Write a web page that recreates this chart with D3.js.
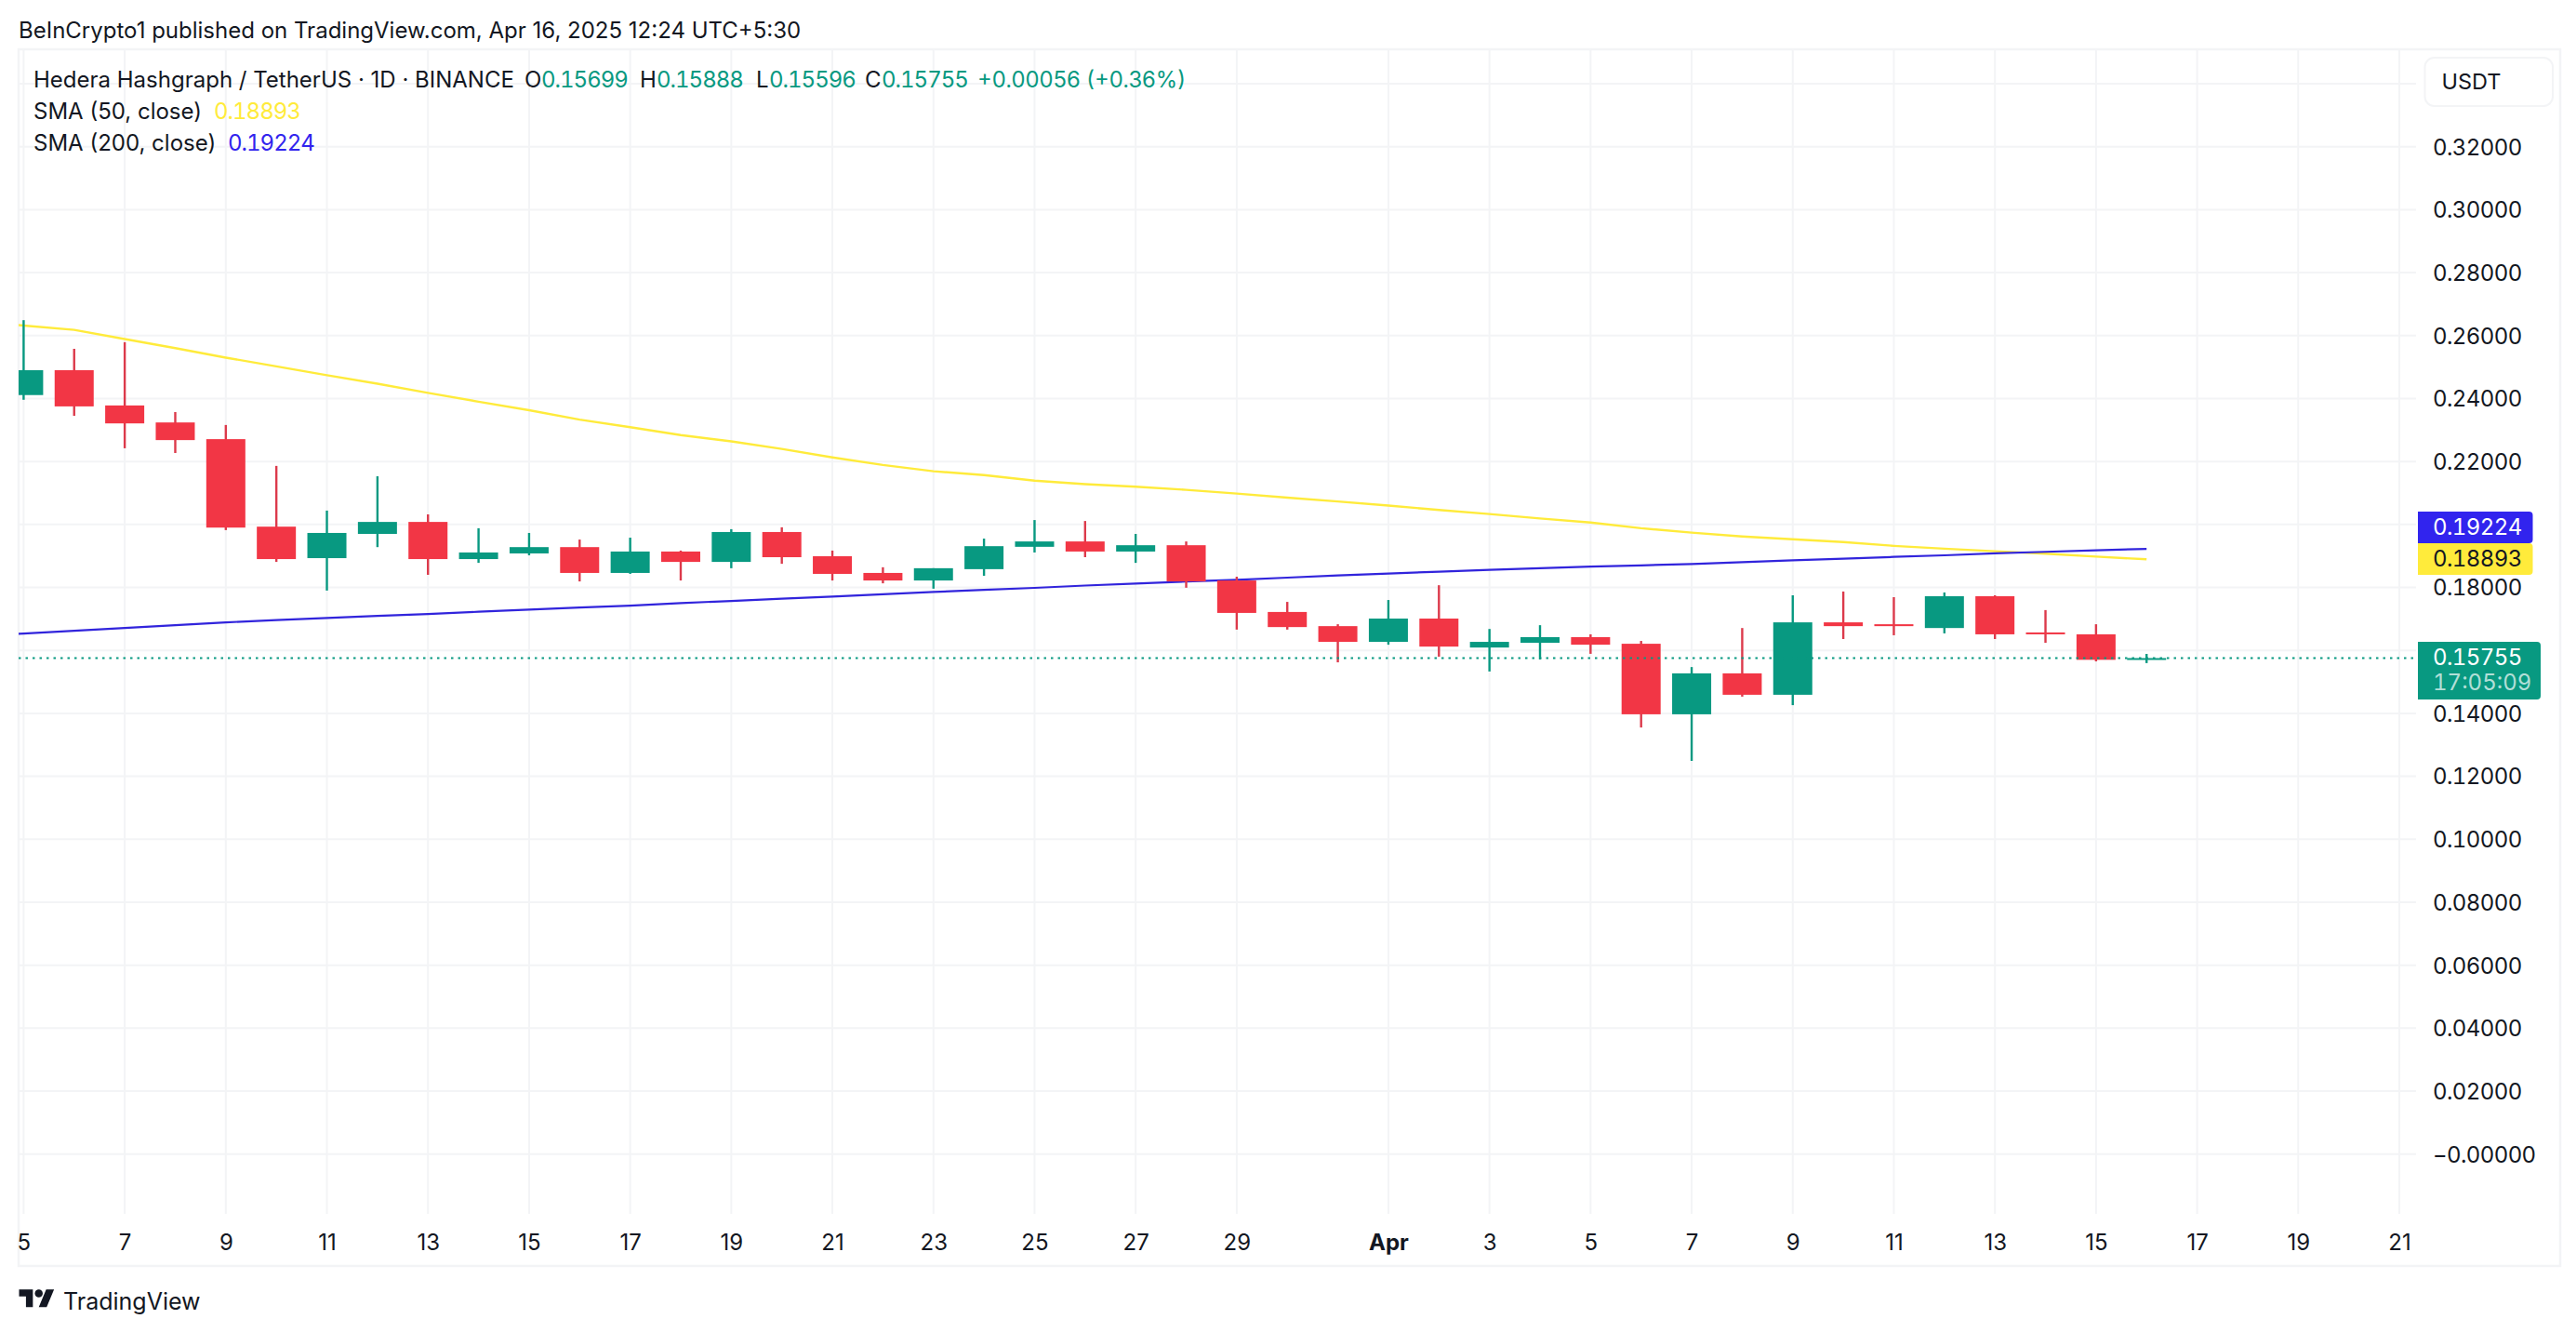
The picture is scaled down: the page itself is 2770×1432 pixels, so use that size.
<!DOCTYPE html>
<html>
<head>
<meta charset="utf-8">
<title>HBAR/USDT</title>
<script src="https://cdn.jsdelivr.net/npm/d3@7"></script>
<style>
  html, body { margin: 0; background: #fff; }
  text { font-family: Inter, "Noto Sans", sans-serif; fill: #131722; }
  .num { font-variant-numeric: tabular-nums; letter-spacing: -0.6px; }
  .legend-num { font-variant-numeric: tabular-nums; letter-spacing: -1px; }
  .clock { font-variant-numeric: tabular-nums; }
</style>
</head>
<body>
<div id="chart"></div>
<script>
const days = [
  "2025-03-05", "2025-03-06", "2025-03-07", "2025-03-08", "2025-03-09", "2025-03-10", "2025-03-11",
  "2025-03-12", "2025-03-13", "2025-03-14", "2025-03-15", "2025-03-16", "2025-03-17", "2025-03-18",
  "2025-03-19", "2025-03-20", "2025-03-21", "2025-03-22", "2025-03-23", "2025-03-24", "2025-03-25",
  "2025-03-26", "2025-03-27", "2025-03-28", "2025-03-29", "2025-03-30", "2025-03-31", "2025-04-01",
  "2025-04-02", "2025-04-03", "2025-04-04", "2025-04-05", "2025-04-06", "2025-04-07", "2025-04-08",
  "2025-04-09", "2025-04-10", "2025-04-11", "2025-04-12", "2025-04-13", "2025-04-14", "2025-04-15",
  "2025-04-16",
];

const opens = [
  0.2411, 0.249, 0.2378, 0.2324, 0.2271, 0.1993, 0.1893, 0.197, 0.2008, 0.189, 0.1908,
  0.1928, 0.1846, 0.1914, 0.1881, 0.1976, 0.1899, 0.1846, 0.1822, 0.1858, 0.1929, 0.1946,
  0.1914, 0.1934, 0.1822, 0.1722, 0.1677, 0.1627, 0.1701, 0.1609, 0.1624, 0.1642, 0.1621,
  0.1397, 0.1527, 0.1459, 0.1689, 0.1683, 0.1671, 0.1772, 0.1657, 0.1651, 0.15699,
];
const highs = [
  0.2649, 0.2558, 0.2579, 0.2357, 0.2316, 0.2186, 0.2044, 0.2153, 0.2032, 0.1988, 0.1973,
  0.1952, 0.1958, 0.1917, 0.1985, 0.1991, 0.1917, 0.1864, 0.1861, 0.1955, 0.2014, 0.2011,
  0.197, 0.1946, 0.1834, 0.1754, 0.1683, 0.176, 0.1807, 0.1668, 0.168, 0.1651, 0.163,
  0.1547, 0.1671, 0.1775, 0.1787, 0.1769, 0.1784, 0.1775, 0.1728, 0.1683, 0.15888,
];
const lows = [
  0.2396, 0.2345, 0.2242, 0.2227, 0.1982, 0.1881, 0.179, 0.1928, 0.184, 0.1878, 0.1902,
  0.1819, 0.1843, 0.1822, 0.1861, 0.1875, 0.1822, 0.1813, 0.1796, 0.1837, 0.1911, 0.1896,
  0.1878, 0.1799, 0.1666, 0.1666, 0.1562, 0.1618, 0.158, 0.1533, 0.1571, 0.1589, 0.1355,
  0.1249, 0.1453, 0.1426, 0.1636, 0.1648, 0.1654, 0.1636, 0.1624, 0.1565, 0.15596,
];
const closes = [
  0.249, 0.2375, 0.2321, 0.2268, 0.199, 0.189, 0.1973, 0.2008, 0.189, 0.1911, 0.1928,
  0.1846, 0.1914, 0.1881, 0.1976, 0.1896, 0.1843, 0.1822, 0.1861, 0.1931, 0.1946, 0.1914,
  0.1934, 0.1819, 0.1719, 0.1674, 0.1627, 0.1701, 0.1612, 0.1627, 0.1642, 0.1618, 0.1397,
  0.1527, 0.1459, 0.1689, 0.1677, 0.1677, 0.1772, 0.1651, 0.1651, 0.157, 0.15755,
];

// the two averages also have a point for the day before the first visible candle
const smaDays = ["2025-03-04", ...days];
const sma50 = [
  0.2645, 0.2632, 0.2618, 0.2589, 0.256, 0.253, 0.2502, 0.2474, 0.2447, 0.2418, 0.239, 0.2363,
  0.2333, 0.2309, 0.2284, 0.2264, 0.224, 0.2213, 0.2189, 0.2169, 0.2157, 0.2139, 0.2128,
  0.212, 0.211, 0.2098, 0.2085, 0.2073, 0.206, 0.2046, 0.2033, 0.2019, 0.2006, 0.1988,
  0.1974, 0.1962, 0.1953, 0.1944, 0.1932, 0.1923, 0.1915, 0.1907, 0.1898, 0.18893,
];
const sma200 = [
  0.16447, 0.16536, 0.16625, 0.16714, 0.168, 0.16891, 0.1696, 0.17029, 0.17093, 0.17157, 0.17226, 0.17295,
  0.1736, 0.17423, 0.175, 0.17571, 0.1764, 0.17709, 0.17783, 0.17857, 0.17921, 0.17985, 0.18059,
  0.18125, 0.18187, 0.18241, 0.1831, 0.1838, 0.1844, 0.185, 0.1856, 0.1861, 0.1866, 0.187,
  0.18745, 0.188, 0.1886, 0.1891, 0.1897, 0.1902, 0.1908, 0.1913, 0.1918, 0.19224,
];

const gridPrices = [0, 0.02, 0.04, 0.06, 0.08, 0.1, 0.12, 0.14, 0.16, 0.18, 0.2, 0.22, 0.24, 0.26, 0.28, 0.3, 0.32, 0.34];
const labelPrices = [0, 0.02, 0.04, 0.06, 0.08, 0.1, 0.12, 0.14, 0.18, 0.22, 0.24, 0.26, 0.28, 0.3, 0.32];
const tickDays = [
  "2025-03-05", "2025-03-07", "2025-03-09", "2025-03-11", "2025-03-13", "2025-03-15", "2025-03-17",
  "2025-03-19", "2025-03-21", "2025-03-23", "2025-03-25", "2025-03-27", "2025-03-29", "2025-04-01",
  "2025-04-03", "2025-04-05", "2025-04-07", "2025-04-09", "2025-04-11", "2025-04-13", "2025-04-15",
  "2025-04-17", "2025-04-19", "2025-04-21",
];

const lastPrice = 0.15755;
const countdown = "17:05:09";

const GREEN = "#089981", RED = "#f23645", YELLOW = "#ffeb3b", BLUE = "#3124dc";
const GRID = "#f3f4f6";

const width = 2770, height = 1432;
const pane = { left: 20, right: 2598, top: 53, bottom: 1305 };

const parseDay = d3.utcParse("%Y-%m-%d");

const x = d3.scaleUtc()
  .domain([parseDay("2025-03-05"), parseDay("2025-04-21")])
  .range([25.4, 2580]);
const y = d3.scaleLinear().domain([0, 0.32]).range([1240.7, 157.7]);

const svg = d3.select("#chart").append("svg")
  .attr("width", width)
  .attr("height", height)
  .style("display", "block");

// outer frame
svg.append("rect")
  .attr("x", pane.left).attr("y", pane.top)
  .attr("width", 2753 - pane.left).attr("height", 1361 - pane.top)
  .attr("fill", "none").attr("stroke", GRID).attr("stroke-width", 2.5);

svg.append("defs").append("clipPath").attr("id", "pane")
  .append("rect")
  .attr("x", pane.left).attr("y", pane.top)
  .attr("width", pane.right - pane.left).attr("height", pane.bottom - pane.top);

// grid
const grid = svg.append("g").attr("stroke", GRID).attr("stroke-width", 2);
grid.selectAll(".h").data(gridPrices).join("line").attr("class", "h")
  .attr("x1", pane.left).attr("x2", pane.right)
  .attr("y1", d => y(d)).attr("y2", d => y(d));
grid.selectAll(".v").data(tickDays).join("line").attr("class", "v")
  .attr("x1", d => x(parseDay(d))).attr("x2", d => x(parseDay(d)))
  .attr("y1", pane.top).attr("y2", pane.bottom);

const plot = svg.append("g").attr("clip-path", "url(#pane)");

// averages first, candles go over them
const line = d3.line().x((d, i) => x(parseDay(smaDays[i]))).y(d => y(d));
plot.append("path").datum(sma50)
  .attr("d", line).attr("fill", "none").attr("stroke", YELLOW).attr("stroke-width", 2.4);
plot.append("path").datum(sma200)
  .attr("d", line).attr("fill", "none").attr("stroke", BLUE).attr("stroke-width", 2.2);

const candles = days.map((d, i) => ({
  day: parseDay(d), open: opens[i], high: highs[i], low: lows[i], close: closes[i],
}));

plot.selectAll(".wick").data(candles).join("line").attr("class", "wick")
  .attr("x1", d => x(d.day)).attr("x2", d => x(d.day))
  .attr("y1", d => y(d.high)).attr("y2", d => y(d.low))
  .attr("stroke", d => (d.close >= d.open ? GREEN : "#dc3a4b"))
  .attr("stroke-width", 2.4);

plot.selectAll(".body").data(candles).join("rect").attr("class", "body")
  .attr("x", d => x(d.day) - 21)
  .attr("width", 42)
  .attr("y", d => y(Math.max(d.open, d.close)))
  .attr("height", d => Math.max(2, Math.abs(y(d.open) - y(d.close))))
  .attr("fill", d => (d.close >= d.open ? GREEN : RED));

// last price line
plot.append("line")
  .attr("x1", pane.left).attr("x2", pane.right)
  .attr("y1", y(lastPrice)).attr("y2", y(lastPrice))
  .attr("stroke", GREEN).attr("stroke-width", 2).attr("stroke-dasharray", "2.5 5");

// price axis
const yAxis = svg.append("g")
  .attr("transform", "translate(2616,0)")
  .call(d3.axisRight(y).tickValues(labelPrices).tickSize(0).tickPadding(0)
    .tickFormat(d => (d === 0 ? "\u22120.00000" : d.toFixed(5))));
yAxis.select(".domain").remove();
yAxis.selectAll("text").attr("class", "num").attr("font-size", 24).style("font-family", "Inter").attr("dy", "0.35em").attr("x", 0);

// day axis
const xAxis = svg.append("g")
  .attr("transform", "translate(0,1336)")
  .call(d3.axisBottom(x).tickValues(tickDays.map(parseDay)).tickSize(0).tickPadding(0)
    .tickFormat(d => (d.getUTCDate() === 1 ? "Apr" : String(d.getUTCDate()))));
xAxis.select(".domain").remove();
xAxis.selectAll("text")
  .attr("font-size", 24).attr("y", 0).attr("dy", "0.35em")
  .attr("font-weight", d => (d.getUTCDate() === 1 ? 700 : 400));

// price tags on the axis
function tag(top, bottom, right, colour) {
  svg.append("path")
    .attr("d", `M2600,${top}H${right - 4}a4,4 0 0 1 4,4V${bottom - 4}a4,4 0 0 1 -4,4H2600Z`)
    .attr("fill", colour);
}
function tagText(value, cy, colour, opacity, cls) {
  svg.append("text").attr("class", cls || "num").attr("x", 2616).attr("y", cy).attr("dy", "0.35em")
    .attr("font-size", 24).style("fill", colour).attr("fill-opacity", opacity || 1).text(value);
}
tag(550, 584, 2723.5, "#3124ee");
tag(584, 618, 2723.5, YELLOW);
tag(690, 752, 2732, GREEN);
tagText(sma200[sma200.length - 1].toFixed(5), 566.5, "#fff");
tagText(sma50[sma50.length - 1].toFixed(5), 600.5, "#131722");
tagText(lastPrice.toFixed(5), 706.5, "#fff");
tagText(countdown, 734, "#fff", 0.7, "clock");

// currency button
svg.append("rect")
  .attr("x", 2607.5).attr("y", 62).attr("width", 137.5).attr("height", 52).attr("rx", 10)
  .attr("fill", "#fff").attr("stroke", GRID).attr("stroke-width", 2);
svg.append("text").attr("x", 2625.5).attr("y", 88).attr("dy", "0.35em").attr("font-size", 23.5).text("USDT");

// header and legend
function label(px, py, str, colour) {
  const t = svg.append("text").attr("x", px).attr("y", py).attr("dy", "0.35em").attr("font-size", 24).text(str);
  if (colour) t.style("fill", colour).attr("class", "legend-num");
  return t;
}
label(20, 33, "BeInCrypto1 published on TradingView.com, Apr 16, 2025 12:24 UTC+5:30");
label(36, 86, "Hedera Hashgraph / TetherUS \u00b7 1D \u00b7 BINANCE");
label(564, 86, "O");
label(582, 86, opens[42].toFixed(5), GREEN);
label(688, 86, "H");
label(706, 86, highs[42].toFixed(5), GREEN);
label(813, 86, "L");
label(827, 86, lows[42].toFixed(5), GREEN);
label(930, 86, "C");
label(948, 86, closes[42].toFixed(5), GREEN);
label(1051, 86, "+0.00056 (+0.36%)", GREEN).attr("class", null).attr("font-size", 23.8);
label(36, 120, "SMA (50, close)");
label(230, 120, sma50[sma50.length - 1].toFixed(5), YELLOW);
label(36, 154, "SMA (200, close)");
label(245, 154, sma200[sma200.length - 1].toFixed(5), "#3124ee");

// logo
const logo = svg.append("g").attr("transform", "translate(20.5,1382) scale(1.06)").attr("fill", "#131722");
logo.append("path").attr("d", "M14 22H7V11H0V4h14v18zM28 22h-8l7.5-18h8L28 22z");
logo.append("circle").attr("cx", 20).attr("cy", 8).attr("r", 4);
svg.append("text").attr("x", 68).attr("y", 1399).attr("dy", "0.35em").attr("font-size", 25).text("TradingView");
</script>
</body>
</html>
